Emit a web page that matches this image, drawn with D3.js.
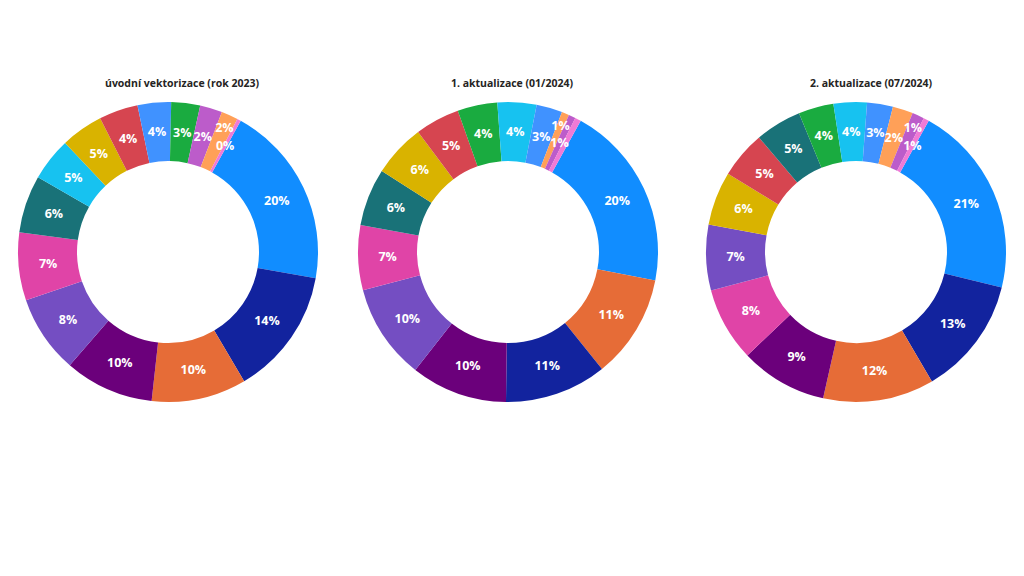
<!DOCTYPE html>
<html>
<head>
<meta charset="utf-8">
<script src="https://cdn.jsdelivr.net/npm/d3@7"></script>
<style>
  html, body { margin: 0; padding: 0; background: #ffffff; }
  svg { display: block; }
</style>
</head>
<body>
<svg id="chart" width="1024" height="576"></svg>
<script>
// ---- data ----
const categories = ["k01","k02","k03","k04","k05","k06","k07","k08","k09","k10","k11","k12","k13","k14","k15"];
const categoryColors = ["#118DFF","#12239E","#E66C37","#6B007B","#744EC2","#E044A7","#197278","#17C2F0",
                        "#D9B300","#D64550","#4092FF","#1AAB40","#BC5CCA","#FFA058","#F07AD6"];
const chartTitles = ["úvodní vektorizace (rok 2023)", "1. aktualizace (01/2024)", "2. aktualizace (07/2024)"];
// percentage shares per category (same order as categories)
const values2023   = [19.7, 13.7, 10.2, 9.6, 8.4, 7.3, 6.2, 4.65, 4.55, 4.2, 3.6, 3.1, 2.4, 1.8, 0.4];
const values2024_1 = [20.0, 11.0, 11.2, 10.4, 10.3, 7.0, 6.2, 4.2, 5.7, 4.8, 2.8, 4.3, 0.75, 0.8, 0.65];
const values2024_2 = [20.8, 12.8, 12.0, 9.4, 7.1, 8.0, 5.0, 3.6, 5.8, 5.1, 2.8, 3.8, 1.3, 2.2, 0.6];
const seriesValues = [values2023, values2024_1, values2024_2];

// ---- layout ----
const centersX = [168, 508, 856];
const centerY = 252;
const titleX = [182, 512, 871];
const titleY = 87;
const outerR = 150, innerR = 91;
const startDeg = 29;

const svg = d3.select("#chart");
const color = d3.scaleOrdinal().domain(categories).range(categoryColors);
const fmt = d3.format(".0%");

const pie = d3.pie()
  .value(d => d.value)
  .sort((a, b) => b.value - a.value)
  .startAngle(startDeg * Math.PI / 180)
  .endAngle((startDeg + 360) * Math.PI / 180);
const arc = d3.arc().innerRadius(innerR).outerRadius(outerR);

seriesValues.forEach((vals, ci) => {
  const data = categories.map((c, i) => ({ cat: c, value: vals[i] }));
  const total = d3.sum(data, d => d.value);
  const arcs = pie(data).sort((a, b) => a.startAngle - b.startAngle);

  svg.append("text")
    .attr("x", titleX[ci]).attr("y", titleY)
    .attr("text-anchor", "middle")
    .attr("font-family", "'Open Sans', sans-serif")
    .attr("font-weight", 700)
    .attr("font-size", "10.5px")
    .attr("fill", "#252423")
    .text(chartTitles[ci]);

  const g = svg.append("g").attr("transform", `translate(${centersX[ci]},${centerY})`);
  g.selectAll("path").data(arcs).join("path")
    .attr("d", arc)
    .attr("fill", d => color(d.data.cat));

  // labels with simple collision avoidance
  const placed = [];
  const radii = [(innerR + outerR) / 2, outerR - 13];
  arcs.forEach(a => {
    const mid = (a.startAngle + a.endAngle) / 2;
    const t = g.append("text")
      .attr("text-anchor", "middle")
      .attr("dy", "0.35em")
      .attr("font-family", "'Open Sans', sans-serif")
      .attr("font-weight", 700)
      .attr("font-size", "12.5px")
      .attr("fill", "#ffffff")
      .text(fmt(a.data.value / total));
    const w = t.node().getComputedTextLength();
    const h = 12;
    let ok = false;
    for (const r of radii) {
      const x = Math.sin(mid) * r, y = -Math.cos(mid) * r;
      const box = { x0: x - w / 2 + 1, x1: x + w / 2 - 1, y0: y - h / 2, y1: y + h / 2 };
      const hit = placed.some(b => box.x0 < b.x1 && box.x1 > b.x0 && box.y0 < b.y1 && box.y1 > b.y0);
      if (!hit) {
        t.attr("x", x).attr("y", y);
        placed.push(box);
        ok = true;
        break;
      }
    }
    if (!ok) t.remove();
  });
});
</script>
</body>
</html>
